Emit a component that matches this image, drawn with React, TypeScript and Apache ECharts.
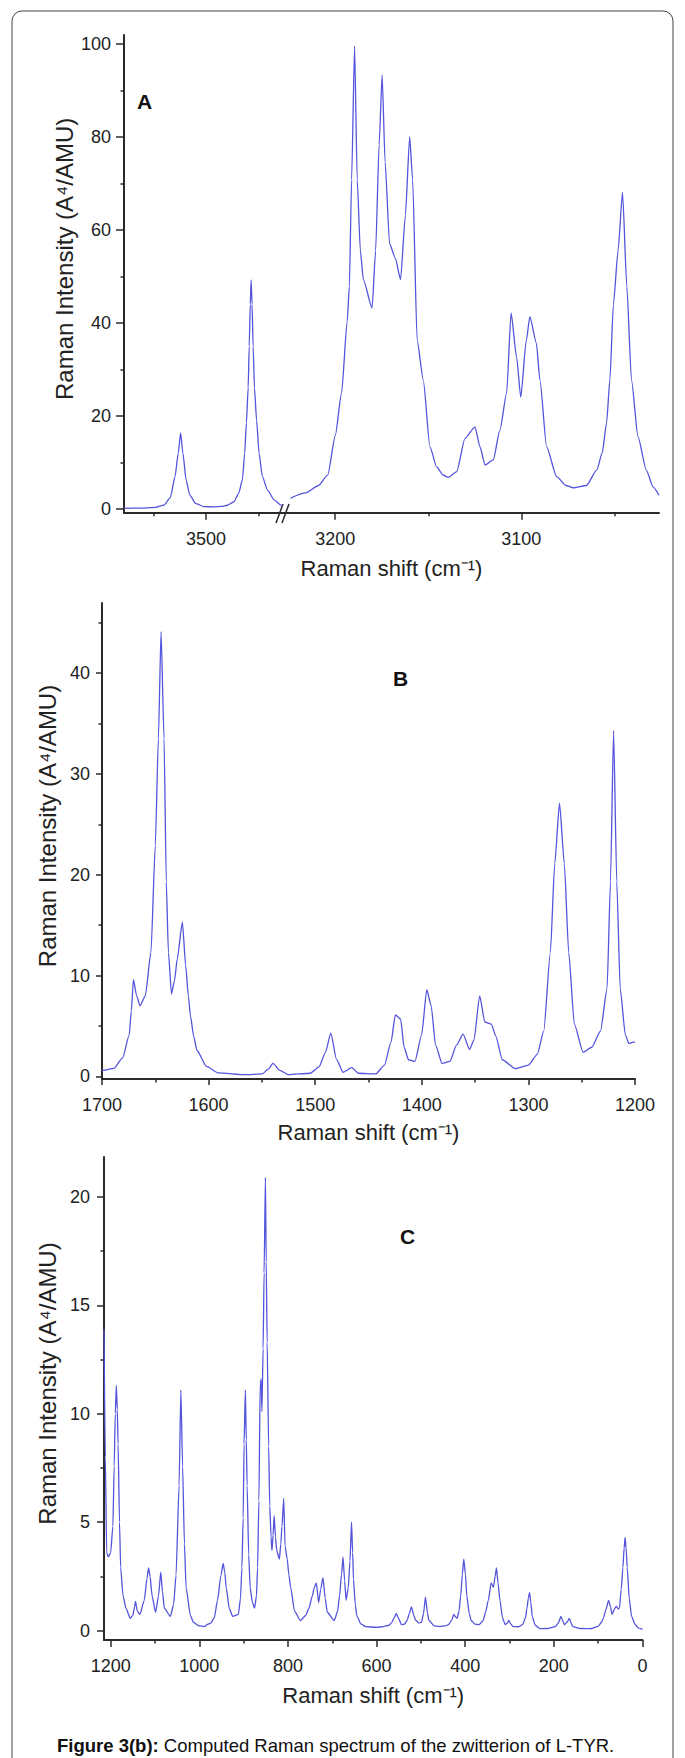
import React, { useEffect, useRef } from 'react';
import * as echarts from 'echarts';

const FONT = '"Liberation Sans", Arial, Helvetica, sans-serif';
const LINE = '#5454dc';
const AXIS = '#2a2a2a';
const INK = '#222222';

// ---- Panel A: high-wavenumber part (left of the axis break) ----
const specA_high: [number, number][] = [
  [3578, 0.1], [3560, 0.15], [3548, 0.3], [3540, 0.8], [3534, 2.4], [3529.5, 6.9], [3526.5, 11.9],
  [3524.2, 16.3], [3522, 11.9], [3519, 6.2], [3515.5, 3.0], [3510, 1.15], [3502, 0.45], [3493, 0.4],
  [3485, 0.5], [3480, 0.75], [3473.5, 1.5], [3469, 3.3], [3465.5, 6.2], [3463.3, 11.9], [3461.7, 18.4],
  [3460, 26], [3459, 35], [3458, 44], [3457.2, 49.2], [3456.3, 44], [3455.3, 35], [3454, 26], [3452, 19],
  [3449.6, 11.9], [3446.5, 6.9], [3441.6, 4.0], [3435.3, 1.9], [3429, 0.8], [3427, 0.6],
];

// ---- Panel A: low-wavenumber part (right of the axis break) ----
const specA_low: [number, number][] = [
  [3224, 2.3], [3216, 3.4], [3209, 5.0], [3204, 7.3], [3200, 15.7], [3196.6, 24.9], [3193.6, 40.2],
  [3192.4, 47.8], [3191.2, 70.8], [3189.6, 99.5], [3188.2, 70.8], [3186.5, 55.5], [3184.9, 49.3],
  [3180.2, 43.2], [3178.3, 55.5], [3176.4, 78.4], [3174.8, 93.3], [3173.2, 74.6], [3170.8, 57],
  [3167.7, 53.9], [3164.9, 49.3], [3162.3, 63.1], [3160, 80], [3158.4, 70.8], [3156, 36.3],
  [3152.7, 27.7], [3149.1, 13.3], [3145.5, 9.0], [3141.9, 7.2], [3139.2, 6.75], [3134.7, 8.0],
  [3130.3, 15.1], [3124.9, 17.6], [3122.2, 13.3], [3119.5, 9.4], [3115.1, 10.5], [3111.5, 16.9],
  [3107.9, 24.8], [3105.5, 42.1], [3102.5, 32.5], [3100.3, 24.0], [3097.3, 36.3], [3095.4, 41.3],
  [3091.9, 35.6], [3090, 27.7], [3086.4, 13.3], [3081, 6.9], [3076, 5.0], [3072, 4.5], [3065, 5.0],
  [3059.5, 8.3], [3056.5, 12], [3054.2, 18.4], [3052.4, 27.7], [3050.5, 44], [3048, 55.5],
  [3045.6, 68.1], [3043.3, 47.8], [3040.8, 27.7], [3037.3, 15.5], [3032.8, 8.3], [3029.2, 4.7], [3026, 2.9],
];

// ---- Panel B ----
const specB: [number, number][] = [
  [1700, 0.55], [1699, 0.6], [1688.8, 0.8], [1680.7, 1.84], [1674.5, 4.1], [1672.5, 6.5], [1670.5, 9.6],
  [1667.5, 8.0], [1664.3, 7.0], [1659.4, 8.0], [1654.1, 12.3], [1650, 22.9], [1647.1, 33.5], [1644.6, 44.1],
  [1641.8, 33.5], [1639.7, 19.3], [1637.7, 12.3], [1634.8, 8.2], [1632, 9.5], [1629.5, 11.6], [1624.6, 15.3],
  [1621.5, 11], [1619, 8], [1617, 6], [1614, 4.0], [1611, 2.6], [1602, 1.0], [1590.6, 0.35], [1566.1, 0.18],
  [1549.7, 0.25], [1544.7, 0.67], [1539.5, 1.3], [1533.3, 0.6], [1525.1, 0.18], [1504.6, 0.32],
  [1496.4, 0.95], [1490.3, 2.4], [1485.4, 4.3], [1480, 1.7], [1473.9, 0.42], [1465.7, 0.88], [1459.6, 0.32],
  [1443.2, 0.25], [1435, 1.13], [1428.9, 3.4], [1424.8, 6.1], [1419.9, 5.7], [1416.6, 2.9], [1412.5, 1.66],
  [1406.4, 1.5], [1400.2, 4.1], [1395.3, 8.6], [1391.2, 7.0], [1387.1, 3.1], [1381, 1.3], [1373.6, 1.5],
  [1367.5, 3.1], [1361.3, 4.2], [1355.2, 2.7], [1351.1, 3.6], [1345.7, 8.0], [1340.9, 5.4], [1334.7, 5.2],
  [1330.6, 4.0], [1324.5, 1.66], [1312.2, 0.78], [1299.9, 1.13], [1291.7, 2.2], [1285.6, 4.5],
  [1279.4, 12.3], [1275.3, 21.1], [1270.8, 27.1], [1266.3, 21.1], [1262.2, 12.3], [1256.9, 5.2],
  [1248.7, 2.4], [1240.6, 2.9], [1232.4, 4.5], [1226.2, 8.7], [1223, 19.3], [1220.1, 34.3], [1217.1, 19.3],
  [1213.9, 8.7], [1209, 4.1], [1205.7, 3.25], [1201.6, 3.4], [1200, 3.4],
];

// ---- Panel C ----
const specC: [number, number][] = [
  [1215, 13.9], [1212, 8], [1209, 3.6], [1205, 3.4], [1200, 3.6], [1195, 4.8], [1192, 7.6], [1189.5, 10],
  [1187.2, 11.3], [1185, 10.2], [1183.2, 8.6], [1180, 5], [1177.4, 2.9], [1172, 1.6], [1165.5, 1.04],
  [1155.7, 0.57], [1150, 0.7], [1146, 1.1], [1143.9, 1.35], [1140, 0.9], [1134, 0.75], [1124.2, 1.4],
  [1118, 2.4], [1114.4, 2.9], [1111, 2.5], [1106.5, 1.6], [1098.7, 0.85], [1092, 1.6], [1086.9, 2.7],
  [1083, 1.8], [1079, 1.04], [1065.3, 0.66], [1058, 1.2], [1052.5, 2.55], [1045.6, 6.7], [1041.6, 11.1],
  [1037.7, 7.6], [1033.5, 4], [1029.8, 1.98], [1020, 0.7], [1013.1, 0.38], [1000, 0.22], [988.5, 0.19],
  [980, 0.3], [974, 0.35], [966, 0.6], [959, 1.4], [951.1, 2.55], [946.2, 3.1], [942.5, 2.7], [939.3, 1.98],
  [932, 1.0], [924.6, 0.66], [911.8, 0.75], [907, 1.5], [903.9, 2.9], [901, 5.2], [899, 8.6], [896, 11.1],
  [894, 8.8], [892.1, 6.7], [888.5, 3.5], [885.2, 1.98], [880, 1.3], [875.4, 1.04], [871, 1.6], [868.5, 2.9],
  [865.5, 6], [862.6, 11.4], [860.5, 11.6], [858.7, 10.1], [856, 13], [853.8, 16.5], [850.8, 20.9],
  [849, 17], [846.9, 13.3], [843.5, 8.5], [841, 5.75], [838, 4.3], [836.1, 3.7], [833.5, 4.4], [831.1, 5.3],
  [828, 4.3], [825.3, 3.7], [819.3, 3.3], [816, 4], [813.5, 4.8], [809.5, 6.1], [806.5, 3.9], [801.6, 3.3],
  [798, 2.6], [793.8, 1.98], [785, 0.9], [772.1, 0.47], [760, 0.7], [752.5, 1.04], [745, 1.6],
  [740.7, 1.98], [735.8, 2.2], [730.8, 1.3], [726, 1.9], [721, 2.45], [716, 1.5], [711.2, 0.85],
  [695.4, 0.47], [688, 0.9], [683.6, 1.6], [679, 2.6], [675.7, 3.4], [672, 2.3], [668.8, 1.4], [663.9, 1.98],
  [660, 3.2], [656.5, 5.0], [654, 3.6], [652.1, 2.36], [648, 1.2], [644.3, 0.66], [635, 0.3], [624.6, 0.19],
  [600, 0.15], [585.2, 0.19], [572, 0.25], [565.6, 0.38], [560, 0.6], [555.7, 0.8], [550, 0.55],
  [543.9, 0.28], [537, 0.3], [531.1, 0.47], [526, 0.8], [521.3, 1.1], [516, 0.7], [511.5, 0.47], [504, 0.35],
  [498.7, 0.38], [494, 0.8], [489.8, 1.55], [485, 0.8], [482, 0.47], [470, 0.22], [457.4, 0.19], [445, 0.22],
  [437.7, 0.28], [430, 0.5], [425.9, 0.75], [421, 0.62], [418, 0.57], [414, 0.9], [410.2, 1.6], [406.5, 2.6],
  [403.3, 3.3], [399.5, 2.6], [396.4, 1.6], [391, 0.8], [386.5, 0.47], [378, 0.3], [368.8, 0.28], [360, 0.45],
  [354.1, 0.85], [348, 1.4], [341.3, 2.2], [336.3, 2.0], [332.5, 2.5], [329.5, 2.9], [326, 2.2], [321.6, 1.4],
  [316, 0.6], [309.8, 0.28], [305, 0.35], [301.9, 0.47], [297, 0.3], [292.1, 0.19], [280, 0.18],
  [270.5, 0.28], [264, 0.6], [260.7, 1.04], [257.5, 1.5], [254.8, 1.75], [252, 1.3], [248.8, 0.66],
  [242, 0.25], [231.1, 0.09], [215, 0.1], [196.7, 0.19], [190, 0.35], [184, 0.66], [180, 0.45], [176.1, 0.28],
  [170, 0.4], [165.2, 0.57], [161, 0.35], [157.4, 0.19], [140, 0.1], [118, 0.09], [100, 0.2], [92, 0.4],
  [88.5, 0.57], [82, 1.0], [76.7, 1.4], [72, 1.1], [68.8, 0.75], [63, 1.0], [59, 1.13], [55, 1.0], [52.1, 1.04],
  [48, 1.9], [44.3, 2.9], [41.5, 3.8], [39.3, 4.3], [37, 3.8], [34.4, 2.9], [30, 1.5], [24.6, 0.66], [17, 0.3],
  [9.8, 0.13], [0, 0.06],
];

// ---- tick values ----
const ticksAHighX = [3500];
const minorAHighX = [3550, 3450];
const ticksALowX = [3200, 3100];
const minorALowX = [3150, 3050];
const ticksAY = [0, 20, 40, 60, 80, 100];
const minorAY = [10, 30, 50, 70, 90];
const ticksBX = [1700, 1600, 1500, 1400, 1300, 1200];
const minorBX = [1650, 1550, 1450, 1350, 1250];
const ticksBY = [0, 10, 20, 30, 40];
const minorBY = [5, 15, 25, 35, 45];
const ticksCX = [1200, 1000, 800, 600, 400, 200, 0];
const minorCX = [1100, 900, 700, 500, 300, 100];
const ticksCY = [0, 5, 10, 15, 20];
const minorCY = [2.5, 7.5, 12.5, 17.5];

const X_TITLE = 'Raman shift (cm\u207B\u00B9)';
const Y_TITLE = 'Raman Intensity (A\u2074/AMU)';
const CAPTION_BOLD = 'Figure 3(b):';
const CAPTION_REST = ' Computed Raman spectrum of the zwitterion of L-TYR.';

const fmt = (v: number) => String(v);

function xMajor(gridIndex: number, min: number, max: number, ticks: number[], o: any = {}) {
  return {
    type: 'value', gridIndex, min, max, inverse: true, position: 'bottom',
    axisLine: { show: true, onZero: false, lineStyle: { color: AXIS, width: 2 } },
    axisTick: { show: true, inside: false, length: o.tickLen ?? 7, customValues: ticks, lineStyle: { color: AXIS, width: 1.5 } },
    axisLabel: { show: true, customValues: ticks, margin: 17, fontSize: 18, fontFamily: FONT, color: INK, formatter: fmt },
    splitLine: { show: false },
    name: o.name, nameLocation: 'middle', nameGap: o.nameGap ?? 44,
    nameTextStyle: { fontSize: 22, fontFamily: FONT, color: INK, padding: o.namePad ?? 0 },
  };
}
function xMinor(gridIndex: number, min: number, max: number, ticks: number[]) {
  return {
    type: 'value', gridIndex, min, max, inverse: true, position: 'bottom',
    axisLine: { show: false, onZero: false },
    axisTick: { show: true, inside: false, length: 3.5, customValues: ticks, lineStyle: { color: AXIS, width: 1.5 } },
    axisLabel: { show: false }, splitLine: { show: false },
  };
}
function yMajor(gridIndex: number, min: number, max: number, ticks: number[], o: any = {}) {
  return {
    type: 'value', gridIndex, min, max, position: 'left',
    axisLine: { show: true, onZero: false, lineStyle: { color: AXIS, width: 2 } },
    axisTick: { show: true, inside: false, length: o.tickLen ?? 7, customValues: ticks, lineStyle: { color: AXIS, width: 1.5 } },
    axisLabel: { show: true, customValues: ticks, margin: o.margin ?? 13, fontSize: 18, fontFamily: FONT, color: INK, formatter: fmt },
    splitLine: { show: false },
    name: Y_TITLE, nameLocation: 'middle', nameRotate: 90, nameGap: o.nameGap ?? 45,
    nameTextStyle: { fontSize: 24, fontFamily: FONT, color: INK, padding: [0, 0, 0, 30] },
  };
}
function yMinor(gridIndex: number, min: number, max: number, ticks: number[]) {
  return {
    type: 'value', gridIndex, min, max, position: 'left',
    axisLine: { show: false, onZero: false },
    axisTick: { show: true, inside: false, length: 3.5, customValues: ticks, lineStyle: { color: AXIS, width: 1.5 } },
    axisLabel: { show: false }, splitLine: { show: false },
  };
}
function spectrum(data: [number, number][], xAxisIndex: number, yAxisIndex: number) {
  return {
    type: 'line', xAxisIndex, yAxisIndex, data, symbol: 'none', showSymbol: false,
    smooth: 0.2, smoothMonotone: 'x', clip: true,
    lineStyle: { color: LINE, width: 1.3 }, emphasis: { disabled: true }, silent: true,
  };
}

const A_YMIN = -0.85, A_YMAX = 101.9;
const B_YMIN = -0.25, B_YMAX = 46.95;
const C_YMIN = -0.43, C_YMAX = 21.84;

export default function App() {
  const ref = useRef<HTMLDivElement>(null);
  useEffect(() => {
    document.body.style.margin = '0';
    const chart = echarts.init(ref.current!, undefined, { renderer: 'svg' });
    const option: any = {
      animation: false,
      backgroundColor: '#ffffff',
      title: {
        text: `{b|${CAPTION_BOLD}}${CAPTION_REST}`,
        left: 57, top: 1736, padding: 0,
        textStyle: {
          fontSize: 18.5, fontWeight: 'normal', fontFamily: FONT, color: '#111',
          rich: { b: { fontSize: 18.5, fontWeight: 'bold', fontFamily: FONT, color: '#111' } },
        },
      },
      grid: [
        { left: 124, top: 35, width: 161, height: 477.7, outerBoundsMode: 'none' },
        { left: 285, top: 35, width: 374, height: 477.7, outerBoundsMode: 'none' },
        { left: 102, top: 603, width: 533, height: 476, outerBoundsMode: 'none' },
        { left: 104, top: 1157, width: 538.5, height: 483, outerBoundsMode: 'none' },
      ],
      xAxis: [
        xMajor(0, 3425, 3578, ticksAHighX),
        xMinor(0, 3425, 3578, minorAHighX),
        xMajor(1, 3026, 3227, ticksALowX, { name: X_TITLE, nameGap: 45, namePad: [0, 161, 0, 0] }),
        xMinor(1, 3026, 3227, minorALowX),
        xMajor(2, 1200, 1700, ticksBX, { name: X_TITLE, nameGap: 42, tickLen: 6 }),
        xMinor(2, 1200, 1700, minorBX),
        xMajor(3, 0, 1215, ticksCX, { name: X_TITLE, nameGap: 44 }),
        xMinor(3, 0, 1215, minorCX),
      ],
      yAxis: [
        yMajor(0, A_YMIN, A_YMAX, ticksAY, { nameGap: 48, tickLen: 8, margin: 13 }),
        yMinor(0, A_YMIN, A_YMAX, minorAY),
        { type: 'value', gridIndex: 1, min: A_YMIN, max: A_YMAX, show: false },
        yMajor(2, B_YMIN, B_YMAX, ticksBY, { nameGap: 38, tickLen: 6, margin: 12 }),
        yMinor(2, B_YMIN, B_YMAX, minorBY),
        yMajor(3, C_YMIN, C_YMAX, ticksCY, { nameGap: 38, tickLen: 7, margin: 14 }),
        yMinor(3, C_YMIN, C_YMAX, minorCY),
      ],
      series: [
        spectrum(specA_high, 0, 0),
        spectrum(specA_low, 2, 2),
        spectrum(specB, 4, 3),
        spectrum(specC, 6, 5),
      ],
      graphic: [
        {
          type: 'rect', silent: true, z: -1,
          shape: { x: 12, y: 11, width: 661, height: 1790, r: 10 },
          style: { fill: 'none', stroke: '#444', lineWidth: 1 },
        },
        { type: 'line', silent: true, shape: { x1: 276, y1: 523, x2: 283, y2: 504 }, style: { stroke: AXIS, lineWidth: 1.5 } },
        { type: 'line', silent: true, shape: { x1: 282, y1: 523, x2: 289, y2: 504 }, style: { stroke: AXIS, lineWidth: 1.5 } },
        { type: 'text', silent: true, x: 137, y: 91, style: { text: 'A', font: `bold 21px ${FONT}`, fill: '#111', align: 'left', verticalAlign: 'top', textAlign: 'left', textVerticalAlign: 'top' } },
        { type: 'text', silent: true, x: 393, y: 668, style: { text: 'B', font: `bold 21px ${FONT}`, fill: '#111', align: 'left', verticalAlign: 'top', textAlign: 'left', textVerticalAlign: 'top' } },
        { type: 'text', silent: true, x: 400, y: 1226, style: { text: 'C', font: `bold 21px ${FONT}`, fill: '#111', align: 'left', verticalAlign: 'top', textAlign: 'left', textVerticalAlign: 'top' } },
      ],
    };
    chart.setOption(option);
    return () => chart.dispose();
  }, []);
  return (
    <div
      ref={ref}
      style={{ position: 'absolute', left: 0, top: 0, width: 685, height: 1758, background: '#fff' }}
    />
  );
}
